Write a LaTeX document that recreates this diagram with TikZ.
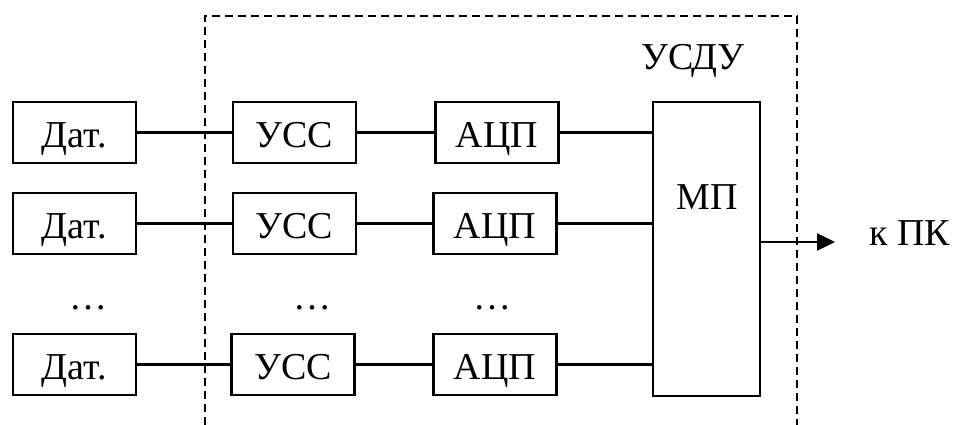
\documentclass[tikz,border=0pt]{standalone}
\usepackage{fontspec}
\setmainfont{Liberation Serif}
\usetikzlibrary{arrows.meta}
\begin{document}
\begin{tikzpicture}[x=1pt,y=-1pt,
  every node/.style={font=\fontsize{38}{42}\selectfont},
  blk/.style={draw,line width=2.4pt,minimum width=123pt,minimum height=61pt,
    inner sep=0pt,text height=30pt,text depth=0pt},
  wire/.style={line width=2.4pt},
  frame/.style={line width=2.2pt,dash pattern=on 8pt off 5pt}]
\useasboundingbox (0,0) rectangle (955,425);

% enclosing unit (open at the bottom)
\draw[frame] (205,425) -- (205,16) -- (797,16) -- (797,425);
\node[anchor=base] (usdu) at (693,70) {УСДУ};

% sensors
\node[blk] (d1) at (74.5,132.5) {Дат.};
\node[blk] (d2) at (74.5,223.5) {Дат.};
\node[blk] (d3) at (74.5,364.5) {Дат.};

% signal conditioners
\node[blk] (u1) at (294.5,132.5) {УСС};
\node[blk] (u2) at (294.5,223.5) {УСС};
\node[blk] (u3) at (293,364.5) {УСС};

% converters
\node[blk] (a1) at (497,132.5) {АЦП};
\node[blk] (a2) at (495,223.5) {АЦП};
\node[blk] (a3) at (495,364.5) {АЦП};

% microprocessor
\node[draw,line width=2.4pt,minimum width=107pt,minimum height=294pt,inner sep=0pt] (mp) at (706.5,249) {};
\node[anchor=base] (mpl) at (707,209) {МП};

% ellipses between rows
\node[anchor=base] (e1) at (88,309) {…};
\node[anchor=base] (e2) at (312,309) {…};
\node[anchor=base] (e3) at (492,309) {…};

% connections
\foreach \i in {1,2,3}{
  \draw[wire] (d\i) -- (u\i);
  \draw[wire] (u\i) -- (a\i);
  \draw[wire] (a\i.east) -- (a\i.east -| mp.west);
}

% output
\coordinate (out) at (835,242);
\node[anchor=base west] (pk) at (866,245) {к ПК};
\draw[wire,-{Triangle[length=18pt,width=17pt]}] (mp.east |- out) -- (out);
\end{tikzpicture}
\end{document}
